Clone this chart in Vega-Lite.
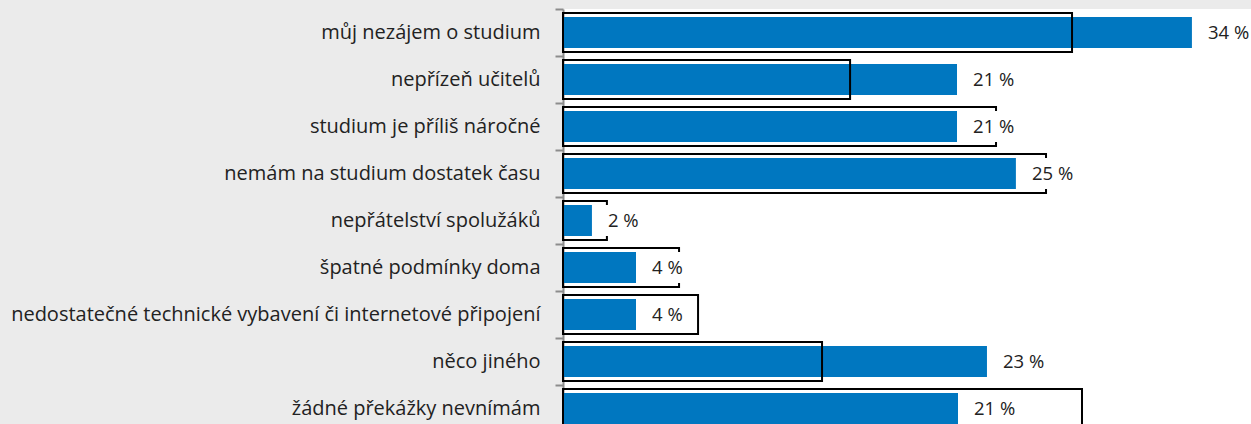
{
  "$schema": "https://vega.github.io/schema/vega-lite/v6.json",
  "autosize": {"type": "none"},
  "width": 688,
  "height": 415,
  "padding": {"left": 563, "top": 9, "right": 0, "bottom": 0},
  "background": "#ebebeb",
  "view": {"fill": "white", "stroke": null},
  "config": {"font": "Open Sans"},
  "data": {
    "values": [
      {"cat": "můj nezájem o studium", "a": 34.09, "b": 27.59, "label": "34 %"},
      {"cat": "nepřízeň učitelů\u00a0", "a": 21.36, "b": 15.56, "label": "21 %"},
      {"cat": "studium je příliš náročné", "a": 21.36, "b": 23.47, "label": "21 %"},
      {"cat": "nemám na studium dostatek času", "a": 24.55, "b": 26.18, "label": "25 %"},
      {"cat": "nepřátelství spolužáků", "a": 1.57, "b": 2.38, "label": "2 %"},
      {"cat": "špatné podmínky doma", "a": 3.96, "b": 6.29, "label": "4 %"},
      {"cat": "nedostatečné technické vybavení či internetové připojení", "a": 3.96, "b": 7.32, "label": "4 %"},
      {"cat": "něco jiného\u00a0", "a": 22.98, "b": 14.04, "label": "23 %"},
      {"cat": "žádné překážky nevnímám", "a": 21.41, "b": 28.13, "label": "21 %"}
    ]
  },
  "encoding": {
    "y": {
      "field": "cat",
      "type": "nominal",
      "sort": null,
      "title": null,
      "scale": {"range": [0, 423], "paddingInner": 0, "paddingOuter": 0},
      "axis": {
        "domainColor": "#8c8c8c",
        "domainWidth": 2,
        "tickColor": "#8c8c8c",
        "tickWidth": 2,
        "tickSize": 8,
        "tickBand": "extent",
        "labelFontSize": 20,
        "labelColor": "#222222",
        "labelPadding": 15,
        "labelLimit": 700,
        "grid": false
      }
    }
  },
  "layer": [
    {
      "mark": {"type": "bar", "color": "#0077c0", "size": 31},
      "encoding": {
        "x": {"field": "a", "type": "quantitative", "scale": {"domain": [0, 37.29], "nice": false}, "axis": null}
      }
    },
    {
      "mark": {"type": "bar", "fill": null, "fillOpacity": 0, "stroke": "black", "strokeWidth": 2, "size": 39},
      "encoding": {
        "x": {"field": "b", "type": "quantitative"}
      }
    },
    {
      "mark": {"type": "bar", "color": "white", "size": 31, "x2Offset": 55},
      "encoding": {
        "x": {"field": "a", "type": "quantitative"},
        "x2": {"field": "a"}
      }
    },
    {
      "mark": {"type": "text", "align": "left", "baseline": "middle", "dx": 16, "fontSize": 18.5, "color": "#222222"},
      "encoding": {
        "x": {"field": "a", "type": "quantitative"},
        "text": {"field": "label"}
      }
    }
  ]
}
